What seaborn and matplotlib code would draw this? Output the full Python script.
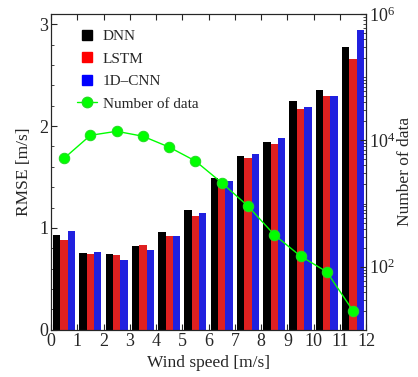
import matplotlib
matplotlib.use("Agg")
import matplotlib.pyplot as plt
import numpy as np
import pandas as pd
import seaborn as sns
from matplotlib.lines import Line2D
from matplotlib.ticker import MultipleLocator, LogLocator, FixedLocator, NullFormatter

# wind speed bins (centres) and RMSE per model
wind_speed = [0.5, 1.5, 2.5, 3.5, 4.5, 5.5, 6.5, 7.5, 8.5, 9.5, 10.5, 11.5]
rmse_dnn = [0.93, 0.75, 0.74, 0.82, 0.96, 1.18, 1.49, 1.71, 1.84, 2.25, 2.35, 2.78]
rmse_lstm = [0.88, 0.74, 0.73, 0.83, 0.92, 1.12, 1.45, 1.69, 1.82, 2.17, 2.29, 2.66]
rmse_cnn = [0.97, 0.76, 0.69, 0.78, 0.92, 1.15, 1.46, 1.73, 1.88, 2.19, 2.29, 2.94]
models = ["DNN", "LSTM", "1D\u2013CNN"]
model_colors = ["black", "red", "blue"]
# number of samples per bin
n_data = [5200, 12000, 13900, 11600, 7800, 4700, 2130, 910, 320, 147, 83, 20]

sns.set_style("ticks")
plt.rcParams['font.family'] = ['Liberation Serif', 'DejaVu Serif']
plt.rcParams['mathtext.fontset'] = 'custom'
plt.rcParams['mathtext.rm'] = 'Liberation Serif'
plt.rcParams['mathtext.it'] = 'Liberation Serif:italic'
plt.rcParams['font.size'] = 12
plt.rcParams['axes.linewidth'] = 0.8

df = pd.DataFrame({
    "ws": wind_speed * 3,
    "rmse": rmse_dnn + rmse_lstm + rmse_cnn,
    "model": [m for m in models for _ in wind_speed],
})

fig = plt.figure(figsize=(4.18, 3.77), dpi=100)
ax = fig.add_axes([0.122, 0.125, 0.754, 0.838])

sns.barplot(data=df, x="ws", y="rmse", hue="model", hue_order=models,
            palette=model_colors, native_scale=True, width=0.84,
            errorbar=None, linewidth=0, legend=False, ax=ax)

ax.set_xlim(0, 12)
ax.set_ylim(0, 3.1)
ax.xaxis.set_major_locator(MultipleLocator(1))
ax.yaxis.set_major_locator(MultipleLocator(1))
ax.yaxis.set_minor_locator(MultipleLocator(0.2))
ax.tick_params(axis='x', which='both', direction='in', top=True, bottom=True, length=4, width=0.8, labelsize=13, pad=2)
ax.tick_params(axis='y', which='major', direction='in', left=True, right=False, length=4, width=0.8, labelsize=13, pad=2)
ax.tick_params(axis='y', which='minor', direction='in', left=True, right=False, length=2, width=0.6)
ax.set_xlabel("Wind speed [m/s]", fontsize=12.5)
ax.set_ylabel("RMSE [m/s]", fontsize=12.5, labelpad=5)

ax2 = ax.twinx()
sns.lineplot(x=wind_speed, y=n_data, color="lime", marker="o", markersize=7.5,
             markeredgecolor="#22dd22", linewidth=1, ax=ax2)
ax2.set_yscale("log")
ax2.set_ylim(10, 1e6)
ax2.yaxis.set_major_locator(FixedLocator([1e2, 1e4, 1e6]))
ax2.yaxis.set_major_formatter(matplotlib.ticker.FuncFormatter(
    lambda v, p: r"$10^{%d}$" % int(round(np.log10(v)))))
ax2.yaxis.set_minor_locator(LogLocator(base=10, subs=np.arange(1, 10), numticks=20))
ax2.yaxis.set_minor_formatter(NullFormatter())
ax2.tick_params(axis='y', which='major', direction='in', length=4, width=0.8, labelsize=13, pad=2)
ax2.tick_params(axis='y', which='minor', direction='in', length=2, width=0.6)
ax2.set_ylabel("Number of data", fontsize=12.5, labelpad=1)

handles = [Line2D([], [], marker='s', linestyle='none', color=c, markersize=7) for c in model_colors]
handles.append(Line2D([], [], marker='o', color='lime', markeredgecolor="#22dd22", markersize=7.5, linewidth=1))
ax2.legend(handles, models + ["Number of data"], loc="upper left", frameon=False,
           fontsize=11, handlelength=1.3, handletextpad=0.35, labelspacing=0.58,
           bbox_to_anchor=(0.04, 0.995))

fig.savefig("out.png", dpi=100)
